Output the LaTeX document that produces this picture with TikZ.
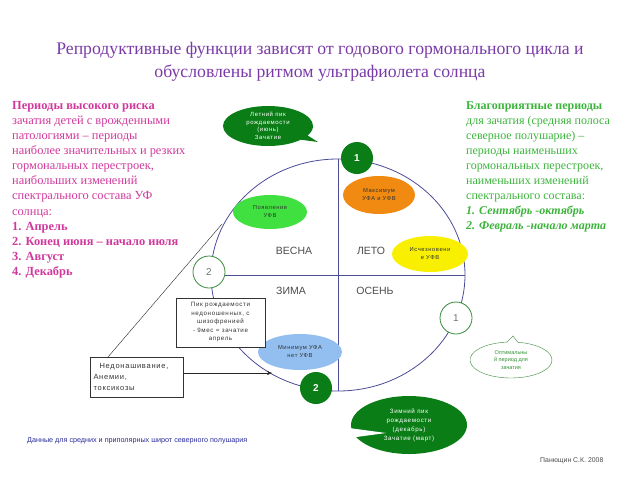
\documentclass[tikz,border=0pt]{standalone}
\usepackage{fontspec}
\setmainfont{Liberation Serif}
\setsansfont{Liberation Sans}
\newfontfamily\spsans[LetterSpace=10]{Liberation Sans}
\usetikzlibrary{shapes.geometric,shapes.callouts,arrows.meta}
\definecolor{titlec}{HTML}{7A3AA8}
\definecolor{pinkc}{HTML}{D0399C}
\definecolor{greenc}{HTML}{3CB43C}
\definecolor{linec}{HTML}{4B4B96}
\definecolor{dkgreen}{HTML}{0A7D16}
\definecolor{ltgreen}{HTML}{40E040}
\definecolor{orangec}{HTML}{F08A10}
\definecolor{yellowc}{HTML}{F8F000}
\definecolor{bluec}{HTML}{92BFF0}
\definecolor{ringc}{HTML}{3A8A3A}
\definecolor{notec}{HTML}{2A2A9A}
\tikzset{
  blob/.style={ellipse, inner sep=0pt, align=center, font=\spsans\fontsize{5.8}{8}\selectfont, text=black!80},
  ring/.style={circle, draw=ringc, fill=white, thick, minimum size=32pt, inner sep=0pt, font=\sffamily\fontsize{10}{12}\selectfont, text=black!55},
  dot/.style={circle, fill=dkgreen, minimum size=32pt, inner sep=0pt, font=\sffamily\bfseries\fontsize{10}{12}\selectfont, text=white},
  season/.style={font=\sffamily\fontsize{10.5}{12}\selectfont, text=black!70},
  boxc/.style={draw=black!80, fill=white, inner sep=0pt, text=black!80},
}
\begin{document}
\begin{tikzpicture}[x=1pt,y=-1pt]
\useasboundingbox (0,0) rectangle (640,480);
% title
\node[font=\fontsize{17.7}{23}\selectfont, text=titlec, align=center] (title) at (320,62)
  {Репродуктивные функции зависят от годового гормонального цикла и\\обусловлены ритмом ультрафиолета солнца};
% left text
\node[anchor=north west, inner sep=0pt, align=left, text=pinkc, font=\fontsize{12.4}{15.1}\selectfont] (risk) at (12,101)
  {\textbf{Периоды высокого риска}\\
  зачатия детей с врожденными\\
  патологиями – периоды\\
  наиболее значительных и резких\\
  гормональных перестроек,\\
  наибольших изменений\\
  спектрального состава УФ\\
  солнца:\\
  \textbf{1. Апрель}\\
  \textbf{2. Конец июня – начало июля}\\
  \textbf{3. Август}\\
  \textbf{4. Декабрь}};
% right text
\node[anchor=north west, inner sep=0pt, align=left, text=greenc, font=\fontsize{12}{15.1}\selectfont] (good) at (466,101)
  {\textbf{Благоприятные периоды}\\
  для зачатия (средняя полоса\\
  северное полушарие) –\\
  периоды наименьших\\
  гормональных перестроек,\\
  наименьших изменений\\
  спектрального состава:\\
  \textbf{\textit{1. Сентябрь -октябрь}}\\
  \textbf{\textit{2. Февраль -начало марта}}};
% cycle
\node[ellipse, draw=linec, thick, minimum width=254pt, minimum height=232pt, inner sep=0pt] (cyc) at (338,275) {};
\draw[linec, thick] (cyc.north) -- (cyc.south);
\draw[linec, thick] (cyc.west) -- (cyc.east);
\node[season] (spring) at (294,251) {ВЕСНА};
\node[season] (summer) at (371,251) {ЛЕТО};
\node[season] (winter) at (291,291) {ЗИМА};
\node[season] (autumn) at (375,291) {ОСЕНЬ};
% blobs
\node[blob, fill=ltgreen, minimum width=74pt, minimum height=34pt] (appear) at (270,212) {Появление\\УФВ};
\node[blob, fill=orangec, minimum width=72pt, minimum height=38pt] (max) at (379,195) {Максимум\\УФА и УФВ};
\node[blob, fill=yellowc, minimum width=76pt, minimum height=36pt] (vanish) at (430,254) {Исчезновени\\е УФВ};
\node[blob, fill=bluec, minimum width=84pt, minimum height=36pt] (min) at (300,352) {Минимум УФА\\нет УФВ};
% callouts
\node[ellipse callout, fill=dkgreen, minimum width=90pt, minimum height=40pt, inner sep=0pt,
  callout absolute pointer={(318,142)}, align=center, text=white,
  font=\spsans\fontsize{6}{7.5}\selectfont] (sumpeak) at (268,126)
  {Летний пик\\рождаемости\\(июнь)\\Зачатие};
\node[ellipse, fill=dkgreen, minimum width=116pt, minimum height=58pt, inner sep=0pt, align=center, text=white,
  font=\spsans\fontsize{6.2}{9}\selectfont] (winpeak) at (409,425)
  {Зимний пик\\рождаемости\\(декабрь)\\Зачатие (март)};
\fill[white] (349,428) -- (386,433) -- (349,438) -- cycle;
\node[ellipse callout, draw=ringc, fill=white, minimum width=82pt, minimum height=36pt, inner sep=0pt,
  callout absolute pointer={(513,336)}, align=center, text=greenc!80!black,
  font=\sffamily\fontsize{5.5}{7.5}\selectfont] (opt) at (511,360)
  {Оптимальны\\й период для\\зачатия};
% circles
\node[dot] (d1) at (357,158) {1};
\node[dot] (d2) at (316,388) {2};
\node[ring] (r2) at (209,272) {2};
\node[ring] (r1) at (456,318) {1};
% boxes
\node[boxc, minimum width=89pt, minimum height=49pt, align=center, font=\spsans\fontsize{6.2}{8.5}\selectfont] (peak) at (220.5,322.5)
  {Пик рождаемости\\недоношенных, с\\шизофренией\\- 9мес = зачатие\\апрель};
\node[boxc, minimum width=93pt, minimum height=40pt, align=left, font=\spsans\fontsize{7.5}{11}\selectfont,
  text width=86pt] (prem) at (136.5,377)
  {\hspace*{6pt}Недонашивание,\\Анемии,\\токсикозы};
\coordinate (apr) at (222,224);
\coordinate (primtop) at (108,357);
\coordinate (arrend) at (272,373);
\draw[black!85] (primtop) -- (apr);
\draw[black!85, -{Stealth[length=5pt,width=4pt]}] (prem.east |- arrend) -- (arrend);
% notes
\node[anchor=west, inner sep=0pt, text=notec, font=\sffamily\fontsize{7.2}{8}\selectfont] (note) at (27,441)
  {Данные для средних и приполярных широт северного полушария};
\node[anchor=west, inner sep=0pt, text=black!70, font=\sffamily\fontsize{6.9}{8}\selectfont] (author) at (540,461)
  {Панющин С.К. 2008};
\end{tikzpicture}
\end{document}
